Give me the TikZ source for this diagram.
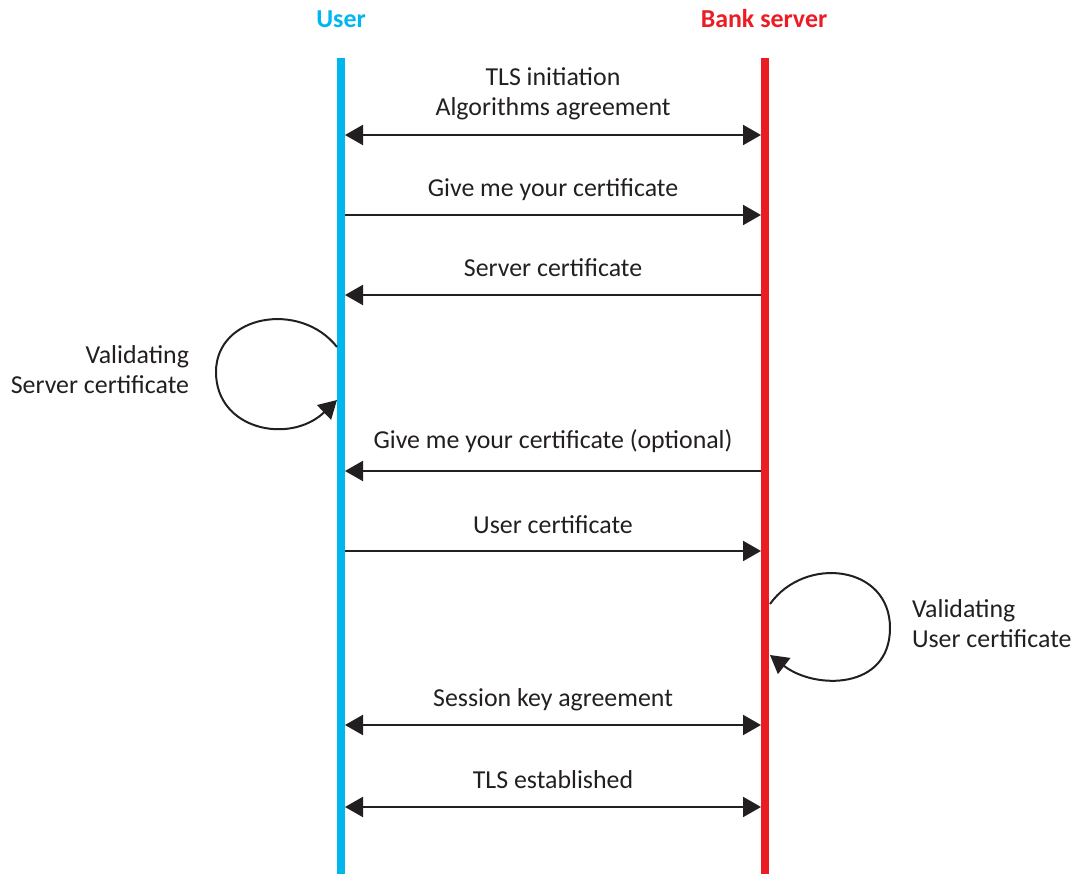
\documentclass[tikz,border=0pt]{standalone}
\usepackage{fontspec}
\setmainfont{Carlito}
\usetikzlibrary{arrows.meta}
\definecolor{usercol}{HTML}{00B6EF}
\definecolor{bankcol}{HTML}{EC1C24}
\definecolor{ink}{HTML}{231F20}
\begin{document}
\begin{tikzpicture}[x=0.75pt,y=-0.75pt,
  every node/.style={inner sep=0pt,outer sep=0pt,font=\fontsize{19.4}{22.5}\selectfont,text=ink},
  title/.style={font=\fontsize{19.4}{22.5}\selectfont\bfseries},
  lifeline/.style={line width=6pt},
  msg/.style={draw=ink,line width=1.5pt,-{Triangle[length=13.5pt,width=15pt]}},
  bimsg/.style={draw=ink,line width=1.5pt,{Triangle[length=13.5pt,width=15pt]}-{Triangle[length=13.5pt,width=15pt]}},
  loopline/.style={draw=ink,line width=1.5pt,-{Triangle[length=13.5pt,width=15pt]}},
  lbl/.style={anchor=base},
  note/.style={align=left,font=\fontsize{19.4}{22.5}\selectfont}
]
\useasboundingbox (0,0) rectangle (1083,874);

% participants
\node[title,text=usercol,anchor=base] (user) at (341,28) {User};
\node[title,text=bankcol,anchor=base] (bank) at (764,28) {Bank server};

% lifelines
\coordinate (utop) at (341,58);
\coordinate (ubot) at (341,874);
\coordinate (btop) at (765,58);
\coordinate (bbot) at (765,874);
\draw[lifeline,usercol] (utop) -- (ubot);
\draw[lifeline,bankcol] (btop) -- (bbot);

% message end points on the lifelines
\foreach \n/\y in {1/135,2/215,3/295,4/471,5/551,6/725,7/807}{
  \coordinate (u\n) at (345,\y);
  \coordinate (b\n) at (761,\y);
}

% messages
\draw[bimsg] (u1) -- (b1);
\node[lbl] (m1a) at (553,86) {TLS initiation};
\node[lbl] (m1b) at (553,116) {Algorithms agreement};

\draw[msg] (u2) -- (b2);
\node[lbl] (m2) at (553,196) {Give me your certificate};

\draw[msg] (b3) -- (u3);
\node[lbl] (m3) at (553,276) {Server certificate};

\draw[msg] (b4) -- (u4);
\node[lbl] (m4) at (553,448) {Give me your certificate (optional)};

\draw[msg] (u5) -- (b5);
\node[lbl] (m5) at (553,533) {User certificate};

\draw[bimsg] (u6) -- (b6);
\node[lbl] (m6) at (553,706) {Session key agreement};

\draw[bimsg] (u7) -- (b7);
\node[lbl] (m7) at (553,788) {TLS established};

% self check on the user side
\coordinate (uls) at (337,347);
\coordinate (ule) at (337,400);
\draw[loopline] (uls) .. controls (300,300) and (216,315) .. (216,372)
  .. controls (216,430) and (290,445) .. (ule);
\node[note,align=right,anchor=east] (uval) at (189,370) {Validating\\Server certificate};

% self check on the bank side
\coordinate (bls) at (770,604);
\coordinate (ble) at (770,655);
\draw[loopline] (bls) .. controls (805,555) and (890,565) .. (890,628)
  .. controls (890,690) and (815,690) .. (ble);
\node[note,anchor=west] (bval) at (912,624) {Validating\\User certificate};
\end{tikzpicture}
\end{document}
